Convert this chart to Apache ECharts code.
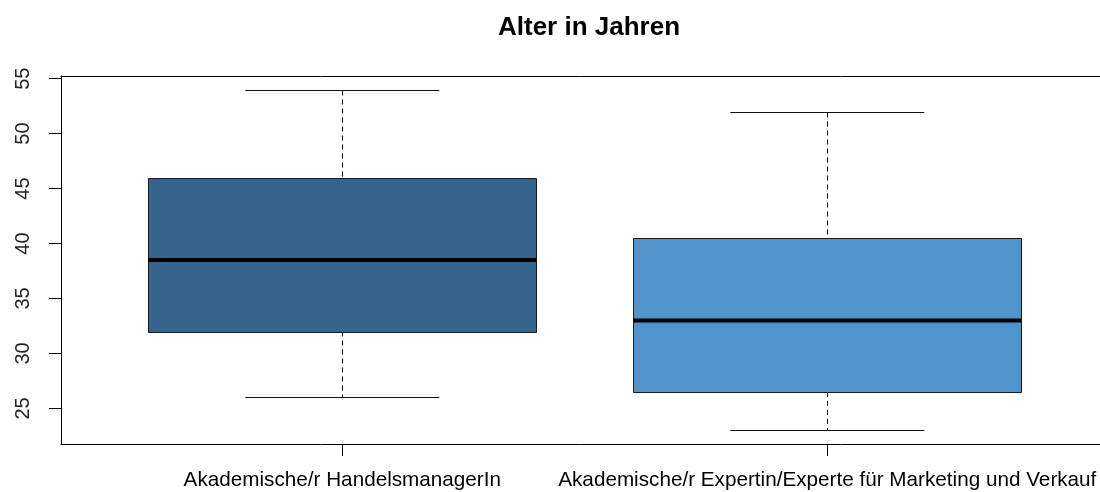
<!DOCTYPE html>
<html>
<head>
<meta charset="utf-8">
<script src="https://cdn.jsdelivr.net/npm/echarts@6/dist/echarts.min.js"></script>
<style>
html,body{margin:0;padding:0;background:#fff;}
#chart{width:1100px;height:492px;}
</style>
</head>
<body>
<div id="chart"></div>
<script>
const categories = ['Akademische/r HandelsmanagerIn', 'Akademische/r Expertin/Experte für Marketing und Verkauf'];
const lowerWhisker = [26, 23];
const q1Values = [32, 26.5];
const medianValues = [38.5, 33];
const q3Values = [46, 40.5];
const upperWhisker = [54, 52];
const yTicks = [25, 30, 35, 40, 45, 50, 55];
const titleText = 'Alter in Jahren';

const boxColors = ['#36648B', '#4F94CD'];
const FONT = '"Liberation Sans", Arial, sans-serif';

const data = categories.map((c, i) => [i + 1, lowerWhisker[i], q1Values[i], medianValues[i], q3Values[i], upperWhisker[i]]);
const catPos = categories.map((c, i) => i + 1);

// plot region continues beyond the right edge of the picture (as in the reference)
const GRID_LEFT = 61, GRID_WIDTH = 1039, UNIT_PX = 485, X_MIN = 0.42;
const X_MAX = X_MIN + GRID_WIDTH / UNIT_PX;

const chart = echarts.init(document.getElementById('chart'), null, {renderer: 'canvas'});

const crisp = v => Math.round(v) + 0.5;

function renderItem(params, api) {
  const x = api.value(0);
  const lw = api.value(1), q1 = api.value(2), med = api.value(3), q3 = api.value(4), uw = api.value(5);
  const halfBox = 0.4, halfCap = 0.2;
  const c = (xv, yv) => api.coord([xv, yv]);
  const color = boxColors[params.dataIndex % boxColors.length];
  const cx = crisp(c(x, 0)[0]);
  const yUW = crisp(c(x, uw)[1]), yQ3 = c(x, q3)[1], yQ1 = c(x, q1)[1], yLW = crisp(c(x, lw)[1]);
  const tl = c(x - halfBox, q3), br = c(x + halfBox, q1);
  const mL = c(x - halfBox, med), mR = c(x + halfBox, med);
  const capL = c(x - halfCap, uw)[0], capR = c(x + halfCap, uw)[0];
  const dashStyle = {stroke: '#000', lineWidth: 1, lineDash: [5, 4]};
  const solid = {stroke: '#111', lineWidth: 1};
  const rx = crisp(tl[0]), ry = crisp(tl[1]);
  return {
    type: 'group',
    children: [
      {type: 'line', shape: {x1: cx, y1: yUW, x2: cx, y2: yQ3}, style: dashStyle},
      {type: 'line', shape: {x1: cx, y1: yQ1, x2: cx, y2: yLW}, style: dashStyle},
      {type: 'line', shape: {x1: capL, y1: yUW, x2: capR, y2: yUW}, style: solid},
      {type: 'line', shape: {x1: capL, y1: yLW, x2: capR, y2: yLW}, style: solid},
      {type: 'rect', shape: {x: rx, y: ry, width: Math.round(br[0] - tl[0]), height: Math.round(br[1] - tl[1])},
        style: {fill: color, stroke: '#1a1a1a', lineWidth: 1}},
      {type: 'line', shape: {x1: mL[0], y1: mL[1], x2: mR[0], y2: mR[1]}, style: {stroke: '#000', lineWidth: 4}}
    ]
  };
}

const option = {
  backgroundColor: '#fff',
  animation: false,
  title: {
    text: titleText,
    left: 584,
    textAlign: 'center',
    top: 10,
    textStyle: {fontFamily: FONT, fontWeight: 'bold', fontSize: 26, color: '#000'}
  },
  grid: {
    left: GRID_LEFT, top: 76, width: GRID_WIDTH, height: 368,
    show: false, containLabel: false, outerBoundsMode: 'none'
  },
  xAxis: [{
    type: 'value',
    min: X_MIN, max: X_MAX,
    axisLine: {show: true, onZero: false, lineStyle: {color: '#000', width: 1}},
    axisTick: {show: true, length: 12, customValues: catPos, lineStyle: {color: '#000'}},
    axisLabel: {
      show: true, customValues: catPos, margin: 26,
      fontFamily: FONT, fontSize: 20.7, color: '#000',
      formatter: v => categories[Math.round(v) - 1] || ''
    },
    splitLine: {show: false}
  }, {
    type: 'value', position: 'top',
    min: X_MIN, max: X_MAX,
    axisLine: {show: true, onZero: false, lineStyle: {color: '#000', width: 1}},
    axisTick: {show: false}, axisLabel: {show: false}, splitLine: {show: false}
  }],
  yAxis: {
    type: 'value',
    min: 21.76, max: 55.24,
    axisLine: {show: true, onZero: false, lineStyle: {color: '#000', width: 1}},
    axisTick: {show: true, length: 12, customValues: yTicks, lineStyle: {color: '#000'}},
    axisLabel: {
      show: true, customValues: yTicks, rotate: 90, margin: 28,
      fontFamily: FONT, fontSize: 20, color: '#222'
    },
    splitLine: {show: false}
  },
  series: [{
    type: 'custom',
    renderItem: renderItem,
    xAxisIndex: 0,
    encode: {x: 0, y: [1, 2, 3, 4, 5]},
    data: data,
    clip: false
  }]
};
chart.setOption(option);
</script>
</body>
</html>
